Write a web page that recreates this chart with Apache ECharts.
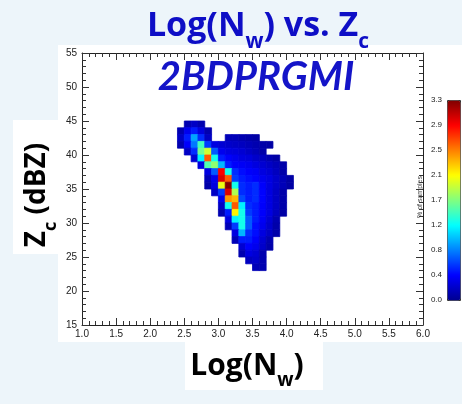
<!DOCTYPE html>
<html>
<head>
<meta charset="utf-8">
<script src="https://cdn.jsdelivr.net/npm/echarts@6/dist/echarts.min.js"></script>
<style>
  html, body { margin: 0; padding: 0; background: #edf5fa; }
  #chart { width: 462px; height: 404px; }
</style>
</head>
<body>
<div id="chart"></div>
<script>
// Reflectivity bins (dBZ, lower edge), one row per bin from top to bottom
const zcBins = [44, 43, 42, 41, 40, 39, 38, 37, 36, 35, 34, 33, 32, 31, 30, 29, 28, 27, 26, 25, 24, 23];
// First Log(Nw) bin (lower edge) occupied in each row; bins are 0.1 wide
const nwStart = [2.5, 2.4, 2.4, 2.4, 2.5, 2.6, 2.7, 2.8, 2.8, 2.8, 2.9, 3.0, 3.0, 3.0, 3.1, 3.1, 3.2, 3.2, 3.3, 3.3, 3.4, 3.5];
// Percent of samples per cell, left to right from nwStart (null = empty cell)
const pctRows = [
  [0.12, 0.20, 0.12],
  [0.12, 0.35, 0.50, 0.30, 0.12],
  [0.20, 0.50, 0.95, 0.55, 0.20, null, null, 0.15, 0.15, 0.12, 0.10, 0.08],
  [0.12, 0.40, 0.80, 1.45, 0.60, 0.30, 0.25, 0.22, 0.20, 0.18, 0.15, 0.12, 0.10, 0.08],
  [0.20, 0.55, 1.60, 1.90, 0.70, 0.35, 0.30, 0.28, 0.25, 0.20, 0.15, 0.10],
  [0.25, 1.20, 2.60, 1.30, 0.50, 0.40, 0.35, 0.30, 0.28, 0.22, 0.18, 0.12, 0.08],
  [0.30, 1.50, 1.70, 1.00, 0.50, 0.40, 0.38, 0.35, 0.30, 0.25, 0.20, 0.15, 0.10],
  [0.30, 0.70, 2.90, 1.30, 0.55, 0.45, 0.40, 0.38, 0.30, 0.25, 0.18, 0.10],
  [0.15, 0.35, 3.00, 2.60, 0.60, 0.50, 0.45, 0.42, 0.35, 0.30, 0.22, 0.15, 0.08],
  [0.10, 0.30, 2.00, 3.30, 1.30, 0.55, 0.50, 0.55, 0.40, 0.30, 0.22, 0.15, 0.08],
  [0.20, 0.60, 3.00, 1.80, 0.55, 0.50, 0.55, 0.42, 0.30, 0.20, 0.10],
  [0.35, 2.40, 2.30, 0.65, 0.50, 0.55, 0.42, 0.30, 0.20, 0.10],
  [0.20, 1.30, 2.60, 1.20, 0.55, 0.50, 0.40, 0.30, 0.20, 0.10],
  [0.12, 0.50, 2.10, 1.30, 0.60, 0.50, 0.40, 0.30, 0.18, 0.08],
  [0.30, 1.20, 1.30, 0.70, 0.50, 0.38, 0.25, 0.12],
  [0.15, 0.60, 1.30, 0.70, 0.45, 0.35, 0.22, 0.10],
  [0.30, 1.00, 0.55, 0.45, 0.30, 0.20, 0.10],
  [0.15, 0.50, 0.50, 0.40, 0.25, 0.12],
  [0.25, 0.40, 0.35, 0.22, 0.10],
  [0.12, 0.30, 0.25, 0.12],
  [0.18, 0.22, 0.12],
  [0.15, 0.12]
];
const colorbarLabels = ['0.0', '0.4', '0.8', '1.2', '1.7', '2.1', '2.5', '2.9', '3.3'];
const jetColors = ['#00008f', '#0000ff', '#0080ff', '#00ffff', '#80ff80', '#ffff00', '#ff8000', '#ff0000', '#800000'];

// Flatten rows into [logNw, zc, pct] triples
const cells = [];
zcBins.forEach((z, r) => {
  pctRows[r].forEach((v, k) => {
    if (v !== null) cells.push([Math.round((nwStart[r] + k * 0.1) * 10) / 10, z, v]);
  });
});

const FONT = 'Open Sans';
const tickFont = { fontFamily: 'Liberation Sans', fontSize: 10, color: '#222' };

function frameAxis(extra) {
  return Object.assign({
    type: 'value',
    gridIndex: 0,
    axisLine: { show: true, lineStyle: { color: '#222', width: 1 } },
    axisTick: { show: true, inside: true, length: 7, lineStyle: { color: '#333' } },
    minorTick: { show: true, splitNumber: 5, length: 4, lineStyle: { color: '#333' } },
    splitLine: { show: false },
    minorSplitLine: { show: false }
  }, extra);
}

function richLabel(size, subSize, drop, color) {
  return {
    m: { fontFamily: FONT, fontWeight: 'bold', fontSize: size, lineHeight: size + 6, fill: color, verticalAlign: 'top' },
    s: { fontFamily: FONT, fontWeight: 'bold', fontSize: subSize, lineHeight: subSize, fill: color, verticalAlign: 'top', padding: [drop, 0, 0, 0] }
  };
}

const chart = echarts.init(document.getElementById('chart'), null, { renderer: 'canvas' });
chart.setOption({
  backgroundColor: '#edf5fa',
  animation: false,
  grid: [
    { left: 82, top: 53, width: 341, height: 272 },
    { left: 447, top: 100, width: 13, height: 200 }
  ],
  xAxis: [
    frameAxis({ min: 1, max: 6, interval: 0.5, position: 'bottom',
      axisLabel: Object.assign({ margin: 4, formatter: v => v.toFixed(1) }, tickFont) }),
    frameAxis({ min: 1, max: 6, interval: 0.5, position: 'top', axisLabel: { show: false } }),
    { type: 'value', gridIndex: 1, show: false, min: 0, max: 1 }
  ],
  yAxis: [
    frameAxis({ min: 15, max: 55, interval: 5, position: 'left',
      axisLabel: Object.assign({ margin: 5 }, tickFont) }),
    frameAxis({ min: 15, max: 55, interval: 5, position: 'right', axisLabel: { show: false } }),
    {
      type: 'value', gridIndex: 1, min: 0, max: 3.3, interval: 0.4125, position: 'left',
      axisLine: { show: false }, axisTick: { show: false }, splitLine: { show: false },
      axisLabel: { margin: 5, fontFamily: 'Liberation Sans', fontSize: 8, color: '#222',
        formatter: v => colorbarLabels[Math.round(v / 0.4125)] }
    }
  ],
  visualMap: {
    type: 'continuous',
    min: 0, max: 3.3,
    dimension: 2,
    seriesIndex: 0,
    inRange: { color: jetColors },
    calculable: false,
    hoverLink: false,
    left: 447, top: 100,
    itemWidth: 13, itemHeight: 200,
    padding: 0,
    text: null,
    borderColor: '#333', borderWidth: 1
  },
  series: [{
    type: 'custom',
    xAxisIndex: 0,
    yAxisIndex: 0,
    data: cells,
    renderItem: function (params, api) {
      const x = api.value(0), z = api.value(1);
      const p0 = api.coord([x, z + 1]);
      const p1 = api.coord([x + 0.1, z]);
      const c = api.visual('color');
      return {
        type: 'rect',
        shape: { x: p0[0], y: p0[1], width: p1[0] - p0[0], height: p1[1] - p0[1] },
        style: { fill: c, stroke: c, lineWidth: 0.8 }
      };
    }
  }],
  graphic: [
    { type: 'rect', z: -1, shape: { x: 58, y: 45, width: 404, height: 297 }, style: { fill: '#ffffff' } },
    { type: 'rect', z: -1, shape: { x: 13, y: 120, width: 45, height: 134 }, style: { fill: '#ffffff' } },
    { type: 'rect', z: -1, shape: { x: 185, y: 342, width: 138, height: 48 }, style: { fill: '#ffffff' } },
    {
      type: 'text', z: 100, x: 258, y: 9,
      style: {
        text: '{m|Log(N}{s|w}{m|) vs. Z}{s|c}',
        textAlign: 'center', textVerticalAlign: 'top',
        rich: richLabel(34, 21, 23, '#0e0ec6')
      }
    },
    {
      type: 'text', z: 100, x: 256, y: 77,
      style: {
        text: '2BDPRGMI', textAlign: 'center', textVerticalAlign: 'middle',
        fontFamily: 'Lato', fontWeight: 'bold', fontStyle: 'italic', fontSize: 40, fill: '#1414c8'
      }
    },
    {
      type: 'text', z: 100, x: 40, y: 195, rotation: Math.PI / 2,
      style: {
        text: '{m|Z}{s|c}{m| (dBZ)}',
        textAlign: 'center', textVerticalAlign: 'middle',
        rich: richLabel(28, 18, 19, '#000')
      }
    },
    {
      type: 'text', z: 100, x: 247, y: 351,
      style: {
        text: '{m|Log(N}{s|w}{m|)}',
        textAlign: 'center', textVerticalAlign: 'top',
        rich: richLabel(30, 19, 20, '#000')
      }
    },
    {
      type: 'text', z: 100, x: 420, y: 197, rotation: Math.PI / 2,
      style: {
        text: '% of samples', textAlign: 'center', textVerticalAlign: 'middle',
        fontFamily: 'Liberation Sans', fontSize: 7, fill: '#444'
      }
    }
  ]
});
</script>
</body>
</html>
